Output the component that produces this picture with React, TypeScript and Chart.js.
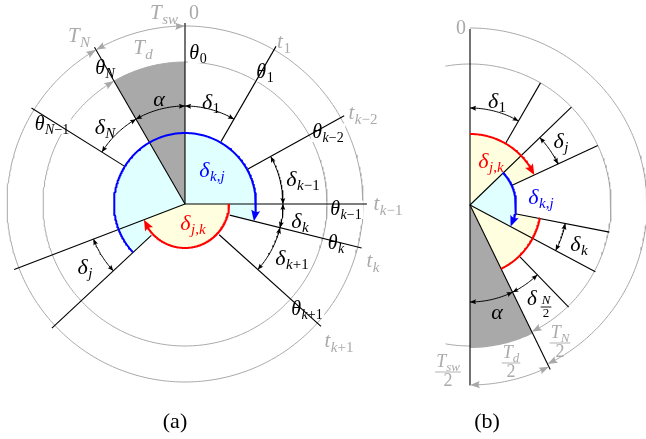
import React, { useEffect, useRef } from "react";
import { Chart, registerables } from "chart.js";
Chart.register(...registerables);

const W = 646;
const H = 439;

// ===================== Diagram (a): full period =====================
// angles in degrees, clockwise from 12 o'clock
const centerA = { x: 185, y: 204 };
const guideRadiiA = [142, 178];
const rayAngleA = [0, 30, 61, 90, 104, 132, 227, 249, 302, 330];
const rayFromA = [0, 72, 72, 0, 46, 46, 46, 0, 72, 0];
const rayToA = [181, 182, 182, 182, 182, 183, 182, 183, 181, 181];
const spanFromA = [330, 0, 302, 61, 90, 104, 227]; // alpha, d1, dN, dk-1, dk, dk+1, dj
const spanToA = [360, 30, 330, 90, 104, 132, 249];
const spanRadiusA = 98;
const blueArcA = [227, 464];
const blueRadiusA = 71;
const redArcA = [90, 249];
const redRadiusA = 44;
const greySectorA = [330, 360];
const greySectorRadiusA = 142;

// ===================== Diagram (b): half period =====================
const centerB = { x: 470, y: 205 };
const rayAngleB = [0, 180, 30, 46, 65, 101, 118, 136, 154];
const rayFromB = [0, 0, 71, 0, 46, 46, 0, 72, 0];
const rayToB = [176, 180, 141, 141, 141, 142, 142, 142, 183];
const spanFromB = [0, 46, 101, 136, 154];
const spanToB = [30, 65, 118, 154, 180];
const spanRadiusB = 97;
const redArcsB = [[0, 65], [101, 154]];
const redRadiusB = 71;
const blueArcB = [46, 118];
const blueRadiusB = 46;
const greySectorB = [154, 180];
const greySectorRadiusB = 143;
const outerArcB = [0, 154];
const outerRadiusB = 177;
const innerArcB = [-10, 154];
const innerTailB = [180, 190];
const innerRadiusB = 141;
const halfDeadArcB = [154, 180];
const halfDeadRadiusB = 180;

// ===================== styling =====================
const BLACK = "#000000";
const GREY = "#a8a8a8";
const GREY_TXT = "#aaaaaa";
const GREY_FILL = "#a9a9a9";
const BLUE = "#0000ff";
const RED = "#ff0000";
const CYAN_FILL = "#e0ffff";
const YELLOW_FILL = "#ffffe0";
const MATH_FONT = '"Liberation Serif", "Times New Roman", serif';

type Pt = { x: number; y: number };
type C = { x: number; y: number };

function P(c: C, r: number, deg: number): Pt {
  const a = (deg * Math.PI) / 180;
  return { x: c.x + r * Math.sin(a), y: c.y - r * Math.cos(a) };
}
function arcPts(c: C, r: number, a0: number, a1: number): Pt[] {
  const n = Math.max(2, Math.ceil(Math.abs(a1 - a0)));
  const pts: Pt[] = [];
  for (let i = 0; i <= n; i++) pts.push(P(c, r, a0 + ((a1 - a0) * i) / n));
  return pts;
}
function sector(c: C, r: number, a0: number, a1: number): Pt[] {
  return [{ x: c.x, y: c.y }, ...arcPts(c, r, a0, a1), { x: c.x, y: c.y }];
}
const degFor = (len: number, r: number) => ((len / r) * 180) / Math.PI;

// ===================== datasets =====================
const datasets: any[] = [];
function addLine(data: Pt[], color: string, width: number) {
  datasets.push({ data, borderColor: color, borderWidth: width, fill: false });
}
function addFill(data: Pt[], color: string) {
  datasets.push({ data, borderColor: "rgba(0,0,0,0)", borderWidth: 0.01, backgroundColor: color, fill: "shape" });
}

// fills
addFill(sector(centerA, blueRadiusA, blueArcA[0], blueArcA[1]), CYAN_FILL);
addFill(sector(centerA, redRadiusA, redArcA[0], redArcA[1]), YELLOW_FILL);
addFill(sector(centerA, greySectorRadiusA, greySectorA[0], greySectorA[1]), GREY_FILL);
redArcsB.forEach((a) => addFill(sector(centerB, redRadiusB, a[0], a[1]), YELLOW_FILL));
addFill(sector(centerB, blueRadiusB, blueArcB[0], blueArcB[1]), CYAN_FILL);
addFill(sector(centerB, greySectorRadiusB, greySectorB[0], greySectorB[1]), GREY_FILL);

// grey guide circles / arcs
guideRadiiA.forEach((r) => addLine(arcPts(centerA, r, 0, 360), GREY, 1));
addLine(arcPts(centerB, outerRadiusB, outerArcB[0], outerArcB[1] - degFor(4, outerRadiusB)), GREY, 1);
addLine(arcPts(centerB, innerRadiusB, innerArcB[0], innerArcB[1] - degFor(4, innerRadiusB)), GREY, 1);
addLine(arcPts(centerB, innerRadiusB, innerTailB[0], innerTailB[1]), GREY, 1);
addLine(
  arcPts(centerB, halfDeadRadiusB, halfDeadArcB[0] + degFor(4, halfDeadRadiusB), halfDeadArcB[1] - degFor(4, halfDeadRadiusB)),
  GREY,
  1
);

// rays
const firstRayIndex = datasets.length;
rayAngleA.forEach((a, i) => addLine([P(centerA, rayFromA[i], a), P(centerA, rayToA[i], a)], BLACK, 1.1));
rayAngleB.forEach((a, i) => addLine([P(centerB, rayFromB[i], a), P(centerB, rayToB[i], a)], BLACK, 1.1));

// span arcs
spanFromA.forEach((a, i) => addLine(arcPts(centerA, spanRadiusA, a, spanToA[i]), BLACK, 1));
spanFromB.forEach((a, i) => addLine(arcPts(centerB, spanRadiusB, a, spanToB[i]), BLACK, 1));

// coloured arcs
addLine(arcPts(centerA, blueRadiusA, blueArcA[0], blueArcA[1] - degFor(6, blueRadiusA)), BLUE, 2);
addLine(arcPts(centerA, redRadiusA, redArcA[0], redArcA[1] - degFor(6, redRadiusA)), RED, 2);
addLine(arcPts(centerB, redRadiusB, redArcsB[0][0], redArcsB[0][1] - degFor(6, redRadiusB)), RED, 2);
addLine(arcPts(centerB, redRadiusB, redArcsB[1][0], redArcsB[1][1]), RED, 2);
addLine(arcPts(centerB, blueRadiusB, blueArcB[0], blueArcB[1] - degFor(6, blueRadiusB)), BLUE, 2);

datasets.forEach((d, i) => {
  d.order = datasets.length - i;
  d.pointRadius = 0;
  d.pointHoverRadius = 0;
  d.tension = 0;
});

// ===================== arrowheads =====================
type Head = { c: C; r: number; a: number; dir: number; len: number; hw: number; col: string };
const heads: Head[] = [];
spanFromA.forEach((a, i) => {
  heads.push({ c: centerA, r: spanRadiusA, a, dir: -1, len: 6, hw: 2.5, col: BLACK });
  heads.push({ c: centerA, r: spanRadiusA, a: spanToA[i], dir: 1, len: 6, hw: 2.5, col: BLACK });
});
spanFromB.forEach((a, i) => {
  heads.push({ c: centerB, r: spanRadiusB, a, dir: -1, len: 6, hw: 2.5, col: BLACK });
  heads.push({ c: centerB, r: spanRadiusB, a: spanToB[i], dir: 1, len: 6, hw: 2.5, col: BLACK });
});
heads.push({ c: centerA, r: blueRadiusA, a: blueArcA[1], dir: 1, len: 11, hw: 4.5, col: BLUE });
heads.push({ c: centerA, r: redRadiusA, a: redArcA[1], dir: 1, len: 11, hw: 4.5, col: RED });
heads.push({ c: centerB, r: redRadiusB, a: redArcsB[0][1], dir: 1, len: 11, hw: 4.5, col: RED });
heads.push({ c: centerB, r: blueRadiusB, a: blueArcB[1], dir: 1, len: 11, hw: 4.5, col: BLUE });
// grey timing arrows
heads.push({ c: centerA, r: guideRadiiA[1], a: 0, dir: 1, len: 10, hw: 3.6, col: GREY });
heads.push({ c: centerA, r: guideRadiiA[1], a: rayAngleA[9], dir: -1, len: 10, hw: 3.6, col: GREY });
heads.push({ c: centerA, r: guideRadiiA[1], a: rayAngleA[9], dir: 1, len: 10, hw: 3.6, col: GREY });
heads.push({ c: centerA, r: guideRadiiA[0], a: rayAngleA[9], dir: 1, len: 10, hw: 3.6, col: GREY });
heads.push({ c: centerB, r: outerRadiusB, a: outerArcB[1], dir: 1, len: 10, hw: 3.6, col: GREY });
heads.push({ c: centerB, r: innerRadiusB, a: innerArcB[1], dir: 1, len: 10, hw: 3.6, col: GREY });
heads.push({ c: centerB, r: halfDeadRadiusB, a: halfDeadArcB[0], dir: -1, len: 10, hw: 3.6, col: GREY });
heads.push({ c: centerB, r: halfDeadRadiusB, a: halfDeadArcB[1], dir: 1, len: 10, hw: 3.6, col: GREY });

// ===================== labels =====================
type Lbl = { x: number; y: number; m: string; s?: string; c: string; z: number; bg?: boolean; up?: boolean };
type Frac = { x: number; y: number; m: string; s?: string; d: string; c: string; z: number };

const labels: Lbl[] = [
  // (a) grey timing labels
  { x: 164, y: 13, m: "T", s: "sw", c: GREY_TXT, z: 21 },
  { x: 194, y: 13, m: "0", c: GREY_TXT, z: 20, up: true },
  { x: 79, y: 36, m: "T", s: "N", c: GREY_TXT, z: 21 },
  { x: 143, y: 48, m: "T", s: "d", c: GREY_TXT, z: 21 },
  { x: 284, y: 42, m: "t", s: "1", c: GREY_TXT, z: 21 },
  { x: 363, y: 113, m: "t", s: "k−2", c: GREY_TXT, z: 21 },
  { x: 388, y: 204, m: "t", s: "k−1", c: GREY_TXT, z: 21 },
  { x: 373, y: 261, m: "t", s: "k", c: GREY_TXT, z: 21 },
  { x: 339, y: 341, m: "t", s: "k+1", c: GREY_TXT, z: 21 },
  // (a) theta labels
  { x: 198, y: 53, m: "θ", s: "0", c: BLACK, z: 20, bg: true },
  { x: 265, y: 72, m: "θ", s: "1", c: BLACK, z: 20, bg: true },
  { x: 105, y: 68, m: "θ", s: "N", c: BLACK, z: 20, bg: true },
  { x: 52, y: 124, m: "θ", s: "N−1", c: BLACK, z: 20, bg: true },
  { x: 328, y: 132, m: "θ", s: "k−2", c: BLACK, z: 20, bg: true },
  { x: 346, y: 209, m: "θ", s: "k−1", c: BLACK, z: 20, bg: true },
  { x: 336, y: 243, m: "θ", s: "k", c: BLACK, z: 20, bg: true },
  { x: 307, y: 309, m: "θ", s: "k+1", c: BLACK, z: 20, bg: true },
  // (a) spans
  { x: 159, y: 99, m: "α", c: BLACK, z: 22 },
  { x: 211, y: 102, m: "δ", s: "1", c: BLACK, z: 22 },
  { x: 105, y: 127, m: "δ", s: "N", c: BLACK, z: 22 },
  { x: 303, y: 179, m: "δ", s: "k−1", c: BLACK, z: 22 },
  { x: 300, y: 221, m: "δ", s: "k", c: BLACK, z: 22 },
  { x: 292, y: 258, m: "δ", s: "k+1", c: BLACK, z: 22 },
  { x: 85, y: 267, m: "δ", s: "j", c: BLACK, z: 22 },
  { x: 212, y: 170, m: "δ", s: "k,j", c: BLUE, z: 22 },
  { x: 193, y: 223, m: "δ", s: "j,k", c: RED, z: 22 },
  { x: 175, y: 421, m: "(a)", c: BLACK, z: 22, up: true },
  // (b)
  { x: 461, y: 28, m: "0", c: GREY_TXT, z: 20, up: true },
  { x: 497, y: 101, m: "δ", s: "1", c: BLACK, z: 22 },
  { x: 491, y: 161, m: "δ", s: "j,k", c: RED, z: 22 },
  { x: 561, y: 141, m: "δ", s: "j", c: BLACK, z: 22 },
  { x: 541, y: 197, m: "δ", s: "k,j", c: BLUE, z: 22 },
  { x: 579, y: 244, m: "δ", s: "k", c: BLACK, z: 22 },
  { x: 532, y: 299, m: "δ", c: BLACK, z: 21 },
  { x: 497, y: 312, m: "α", c: BLACK, z: 22 },
  { x: 487, y: 421, m: "(b)", c: BLACK, z: 22, up: true },
];
const fracs: Frac[] = [
  { x: 546, y: 307, m: "N", d: "2", c: BLACK, z: 13 },
  { x: 560, y: 343, m: "T", s: "N", d: "2", c: GREY_TXT, z: 18 },
  { x: 511, y: 363, m: "T", s: "d", d: "2", c: GREY_TXT, z: 18 },
  { x: 448, y: 372, m: "T", s: "sw", d: "2", c: GREY_TXT, z: 18 },
];

const isLetter = (ch: string) => /[A-Za-z\u0370-\u03ff]/.test(ch);
function fontFor(ch: string, size: number, up?: boolean) {
  return `${!up && isLetter(ch) ? "italic " : ""}${size}px ${MATH_FONT}`;
}
function runWidth(ctx: CanvasRenderingContext2D, s: string, size: number, up?: boolean) {
  let w = 0;
  for (const ch of s) {
    ctx.font = fontFor(ch, size, up);
    w += ctx.measureText(ch).width;
  }
  return w;
}
function drawRun(ctx: CanvasRenderingContext2D, s: string, x: number, y: number, size: number, up?: boolean) {
  for (const ch of s) {
    ctx.font = fontFor(ch, size, up);
    ctx.fillText(ch, x, y);
    x += ctx.measureText(ch).width;
  }
  return x;
}
function layoutLabel(ctx: CanvasRenderingContext2D, l: Lbl, px: number, py: number) {
  const sz = Math.round(l.z * 0.7);
  const mw = runWidth(ctx, l.m, l.z, l.up);
  const sw = l.s ? runWidth(ctx, l.s, sz) : 0;
  const gap = l.s ? 0.5 : 0;
  const total = mw + gap + sw;
  return { x0: px - total / 2, total, mw, gap, sz, base: py + l.z * 0.3 };
}

const diagramPlugin = {
  id: "diagram",
  beforeDatasetDraw(chart: any, args: any) {
    if (args.index !== firstRayIndex) return;
    const ctx: CanvasRenderingContext2D = chart.ctx;
    const sx = (v: number) => chart.scales.x.getPixelForValue(v);
    const sy = (v: number) => chart.scales.y.getPixelForValue(v);
    ctx.save();
    ctx.fillStyle = "#ffffff";
    labels.forEach((l) => {
      if (!l.bg) return;
      const px = sx(l.x), py = sy(l.y);
      const L = layoutLabel(ctx, l, px, py);
      ctx.fillRect(L.x0 - 1.5, py - l.z * 0.42, L.total + 3, l.z * 0.92);
    });
    ctx.restore();
  },
  afterDatasetsDraw(chart: any) {
    const ctx: CanvasRenderingContext2D = chart.ctx;
    const sx = (v: number) => chart.scales.x.getPixelForValue(v);
    const sy = (v: number) => chart.scales.y.getPixelForValue(v);
    ctx.save();
    // arrowheads
    heads.forEach((h) => {
      const tipD = P(h.c, h.r, h.a);
      const baseD = P(h.c, h.r, h.a - h.dir * degFor(h.len, h.r));
      const tx = sx(tipD.x), ty = sy(tipD.y);
      const bx = sx(baseD.x), by = sy(baseD.y);
      const dx = tx - bx, dy = ty - by;
      const L = Math.hypot(dx, dy) || 1;
      const ux = dx / L, uy = dy / L;
      const nx = -uy, ny = ux;
      ctx.fillStyle = h.col;
      ctx.beginPath();
      ctx.moveTo(tx, ty);
      ctx.lineTo(bx + nx * h.hw, by + ny * h.hw);
      ctx.quadraticCurveTo(tx - ux * h.len * 0.7, ty - uy * h.len * 0.7, bx - nx * h.hw, by - ny * h.hw);
      ctx.closePath();
      ctx.fill();
    });
    // labels
    ctx.textAlign = "left";
    ctx.textBaseline = "alphabetic";
    labels.forEach((l) => {
      const px = sx(l.x), py = sy(l.y);
      const L = layoutLabel(ctx, l, px, py);
      ctx.fillStyle = l.c;
      drawRun(ctx, l.m, L.x0, L.base, l.z, l.up);
      if (l.s) drawRun(ctx, l.s, L.x0 + L.mw + L.gap, L.base + l.z * 0.22, L.sz);
    });
    fracs.forEach((f) => {
      const px = sx(f.x), py = sy(f.y);
      const sz = Math.round(f.z * 0.7);
      const mw = runWidth(ctx, f.m, f.z);
      const sw = f.s ? runWidth(ctx, f.s, sz) : 0;
      const nw = mw + sw;
      const dw = runWidth(ctx, f.d, f.z, true);
      ctx.fillStyle = f.c;
      const nb = py - f.z * 0.2 - (f.s ? f.z * 0.1 : 0);
      drawRun(ctx, f.m, px - nw / 2, nb, f.z);
      if (f.s) drawRun(ctx, f.s, px - nw / 2 + mw, nb + f.z * 0.22, sz);
      drawRun(ctx, f.d, px - dw / 2, py + f.z * 0.75, f.z, true);
      const bw = Math.max(nw, dw) + 2;
      ctx.fillRect(px - bw / 2, py - 0.45, bw, 0.9);
    });
    ctx.restore();
  },
};

export default function App() {
  const ref = useRef<HTMLCanvasElement | null>(null);
  useEffect(() => {
    if (!ref.current) return;
    const chart = new Chart(ref.current, {
      type: "line",
      data: { datasets },
      options: {
        animation: false,
        responsive: false,
        maintainAspectRatio: false,
        devicePixelRatio: 1,
        events: [],
        layout: { padding: 0 },
        elements: { point: { radius: 0 }, line: { tension: 0, borderJoinStyle: "round" } },
        plugins: {
          legend: { display: false },
          tooltip: { enabled: false },
          title: { display: false },
        },
        scales: {
          x: { type: "linear", min: 0, max: W, display: false },
          y: { type: "linear", min: 0, max: H, reverse: true, display: false },
        },
      } as any,
      plugins: [diagramPlugin as any],
    });
    return () => chart.destroy();
  }, []);
  return (
    <div style={{ position: "absolute", left: 0, top: 0, width: W, height: H, background: "#ffffff" }}>
      <canvas ref={ref} width={W} height={H} style={{ display: "block", width: W, height: H }} />
    </div>
  );
}
